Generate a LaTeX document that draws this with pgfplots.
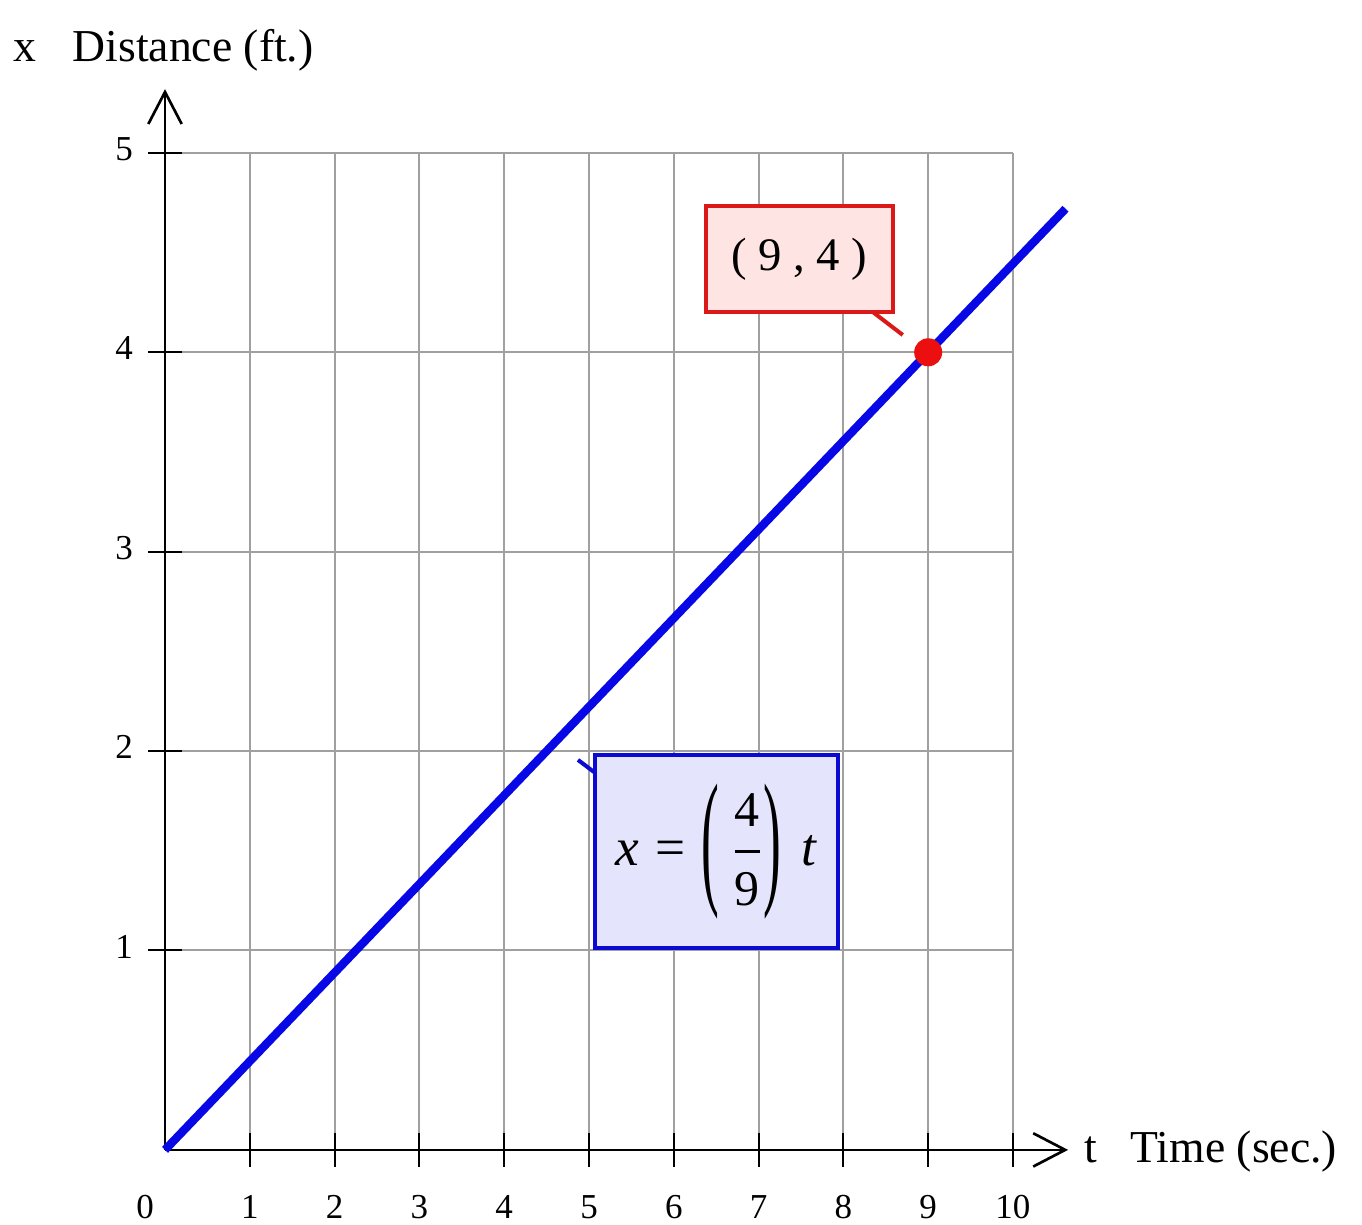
\documentclass[border=0pt]{standalone}
\usepackage{fontspec}
\setmainfont{Liberation Serif}
\usepackage{amsmath}
\usepackage{graphicx}
\usepackage{pgfplots}
\pgfplotsset{compat=1.18}
\usetikzlibrary{arrows.meta}

\definecolor{gridgray}{RGB}{160,160,160}
\definecolor{lineblue}{RGB}{8,8,230}
\definecolor{ptred}{RGB}{235,15,15}
\definecolor{boxred}{RGB}{220,25,25}
\definecolor{redfill}{RGB}{255,228,228}
\definecolor{boxblue}{RGB}{10,10,210}
\definecolor{bluefill}{RGB}{228,228,252}

\newcommand{\tallparen}[1]{\vcenter{\hbox{\scalebox{1}[2.8]{#1}}}}

\begin{document}
\begin{tikzpicture}
\begin{axis}[
    scale only axis,
    x=25.44pt, y=59.82pt,
    xmin=0, xmax=10, ymin=0, ymax=5,
    axis lines=left,
    axis line style={draw=none},
    xtick={1,...,10}, ytick={1,...,5},
    grid=major,
    major grid style={gridgray, line width=0.6pt},
    tick align=center,
    major tick length=10pt,
    tick style={black, line width=0.6pt},
    ticklabel style={font=\fontsize{10.5}{12}\selectfont},
    xticklabel style={anchor=center, yshift=-12.1pt},
    yticklabel style={anchor=center, xshift=-7.3pt, yshift=1.2pt},
    /pgf/number format/assume math mode=true,
    clip=false,
]
% axes with open arrow heads
\draw[line width=0.8pt, -{Straight Barb[length=9.6pt,width=10pt]}]
    (axis cs:0,0) -- (axis cs:10.65,0);
\draw[line width=0.8pt, -{Straight Barb[length=9.6pt,width=10pt]}]
    (axis cs:0,0) -- (axis cs:0,5.32);

\addplot[lineblue, line width=2.5pt] coordinates {(0,0) (10.62,4.72)};
\addplot[only marks, mark=*, ptred, mark size=4pt] coordinates {(9,4)};

% callouts
\draw[boxred, line width=1.2pt] (axis cs:8.2,4.25) -- (axis cs:8.70,4.087);
\node[draw=boxred, line width=1.2pt, fill=redfill, minimum width=56pt,
      minimum height=32pt, inner sep=0pt] at (axis cs:7.48,4.468)
      {\fontsize{14}{16}\selectfont\raisebox{-1pt}{( 9 , 4 )}};

\draw[boxblue, line width=1.2pt] (axis cs:4.87,1.956) -- (axis cs:5.2,1.85);
\node[draw=boxblue, line width=1.2pt, fill=bluefill, minimum width=73pt,
      minimum height=58pt, inner sep=0pt] at (axis cs:6.5,1.497)
      {\fontsize{16}{19}\selectfont
       $\mbox{\itshape x}\mathrel{\mbox{=}}\mathopen{\tallparen{(}}\kern3.5pt
        \genfrac{}{}{0.9pt}{0}{\mbox{\fontsize{15}{15}\selectfont 4}}{\mbox{\fontsize{15}{15}\selectfont 9}}
        \mathclose{\tallparen{)}}\hspace{6pt}\mbox{\itshape t}$};

% labels
\node[anchor=center, inner sep=0pt, font=\fontsize{10.5}{12}\selectfont]
    at (axis cs:-0.236,-0.286) {0};
\node[anchor=base west, inner sep=0pt, font=\fontsize{13.7}{16}\selectfont]
    at (axis cs:-1.80,5.456) {x};
\node[anchor=base west, inner sep=0pt, font=\fontsize{13.7}{16}\selectfont]
    at (axis cs:-1.097,5.456) {Distance (ft.)};
\node[anchor=base west, inner sep=0pt, font=\fontsize{13.7}{16}\selectfont]
    at (axis cs:10.83,-0.065) {t};
\node[anchor=base west, inner sep=0pt, font=\fontsize{13.7}{16}\selectfont]
    at (axis cs:11.38,-0.065) {Time (sec.)};

\coordinate (bbsw) at (axis cs:-1.946,-0.376);
\coordinate (bbne) at (axis cs:14.116,5.767);
\end{axis}
\pgfresetboundingbox
\path[use as bounding box] (bbsw) rectangle (bbne);
\end{tikzpicture}
\end{document}
